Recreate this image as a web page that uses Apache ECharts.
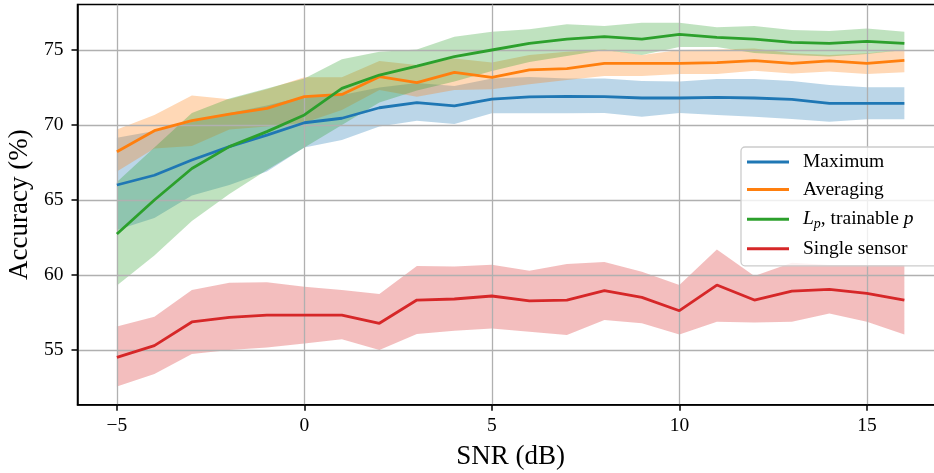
<!DOCTYPE html>
<html><head><meta charset="utf-8">
<script src="https://cdn.jsdelivr.net/npm/echarts@6/dist/echarts.min.js"></script>
<style>html,body{margin:0;padding:0;background:#fff}#c{width:934px;height:473px}</style>
</head><body><div id="c"></div>
<script>
const snr = [-5,-4,-3,-2,-1,0,1,2,3,4,5,6,7,8,9,10,11,12,13,14,15,16];
const xTicks = [-5,0,5,10,15];
const yTicks = [55,60,65,70,75];

const maxMean = [66.0,66.65,67.67,68.56,69.33,70.15,70.45,71.15,71.49,71.27,71.73,71.87,71.91,71.89,71.8,71.8,71.84,71.8,71.71,71.44,71.44,71.44];
const maxHigh = [69.15,69.6,70.2,70.8,71.3,71.9,72.0,72.5,72.8,72.6,73.1,73.2,73.1,73.1,72.93,72.9,73.07,73.07,72.93,72.67,72.51,72.51];
const maxLow  = [63.0,63.8,65.3,66.0,66.9,68.5,69.0,69.9,70.29,70.07,70.78,70.78,70.78,70.8,70.55,70.8,70.67,70.55,70.4,70.22,70.38,70.38];

const avgMean = [68.22,69.62,70.29,70.73,71.11,71.89,72.04,73.22,72.82,73.51,73.18,73.67,73.76,74.11,74.11,74.11,74.16,74.29,74.11,74.27,74.11,74.31];
const avgHigh = [69.7,70.67,71.96,71.71,72.38,73.18,73.18,74.27,74.0,74.44,74.16,74.67,74.89,75.04,74.67,75.0,75.04,75.1,74.78,74.67,74.78,75.0];
const avgLow  = [66.9,68.44,68.6,69.7,69.9,70.15,71.0,72.33,71.89,72.33,72.38,72.71,73.0,73.27,73.27,73.4,73.4,73.62,73.44,73.56,73.4,73.51];

const lpMean = [62.73,65.0,67.1,68.56,69.56,70.67,72.44,73.33,73.93,74.56,75.0,75.44,75.73,75.89,75.73,76.04,75.84,75.73,75.51,75.44,75.58,75.44];
const lpHigh = [66.2,68.5,70.8,71.76,72.44,73.1,74.38,74.89,75.04,75.89,76.22,76.38,76.71,76.6,76.82,76.82,76.51,76.6,76.33,76.27,76.44,76.22];
const lpLow  = [59.3,61.3,63.6,65.4,67.0,68.5,70.0,71.5,72.3,72.9,73.6,74.2,74.6,75.0,74.67,75.2,75.2,74.8,74.67,74.56,74.73,75.0];

const singleMean = [54.51,55.29,56.87,57.18,57.33,57.33,57.33,56.78,58.33,58.4,58.6,58.27,58.33,58.96,58.51,57.62,59.33,58.33,58.93,59.04,58.78,58.33];
const singleHigh = [56.56,57.22,59.0,59.49,59.51,59.22,59.0,58.73,60.6,60.56,60.69,60.29,60.73,60.87,60.22,59.33,61.7,59.93,60.82,60.67,60.67,60.67];
const singleLow  = [52.56,53.4,54.73,55.0,55.16,55.44,55.71,55.0,56.07,56.29,56.44,56.22,56.0,57.0,56.78,56.04,56.89,56.84,56.89,57.44,56.89,56.04];

const names = ['Maximum','Averaging','Lp, trainable p','Single sensor'];
const colors = ['#1f77b4','#ff7f0e','#2ca02c','#d62728'];
const bands = [[maxLow,maxHigh],[avgLow,avgHigh],[lpLow,lpHigh],[singleLow,singleHigh]];
const means = [maxMean,avgMean,lpMean,singleMean];
const FONT = 'Liberation Serif';

function hexA(h,a){const n=parseInt(h.slice(1),16);return `rgba(${n>>16&255},${n>>8&255},${n&255},${a})`;}

function bandRender(color){
  return function(params, api){
    if (params.dataIndexInside !== 0) return null;
    const n = params.dataInsideLength;
    const top = [], bot = [];
    for (let k=0;k<n;k++){
      const x = api.value(0,k);
      top.push(api.coord([x, api.value(2,k)]));
      bot.push(api.coord([x, api.value(1,k)]));
    }
    return {type:'polygon', shape:{points: top.concat(bot.reverse())}, style:{fill: color, stroke:'none'}};
  };
}

const series = [];
bands.forEach((b,i)=>{
  series.push({type:'custom', name:'band'+i, data:snr.map((x,k)=>[x,b[0][k],b[1][k]]),
    encode:{x:0,y:[1,2]}, renderItem:bandRender(hexA(colors[i],0.3)), z:1, silent:true, clip:true});
});
means.forEach((m,i)=>{
  series.push({type:'line',name:names[i],data:snr.map((x,k)=>[x,m[k]]),symbol:'none',
    color:colors[i],lineStyle:{width:2.8,color:colors[i]},z:3});
});

const chart = echarts.init(document.getElementById('c'));
chart.setOption({
  animation:false,
  backgroundColor:'#fff',
  grid:{left:77.5,top:4.55,width:866.25,height:400.2,outerBoundsMode:'none',containLabel:false,
    show:true,borderColor:'#000',borderWidth:1.5,backgroundColor:'transparent'},
  xAxis:{type:'value',min:-6.05,max:17.05,z:2,
    axisLine:{show:true,onZero:false,lineStyle:{color:'#000',width:1.5}},
    axisTick:{show:true,customValues:xTicks,length:6,lineStyle:{color:'#000',width:1.5}},
    axisLabel:{customValues:xTicks,formatter:v=>String(v).replace('-','\u2212'),
      fontFamily:FONT,fontSize:19.5,color:'#000',margin:11},
    splitLine:{show:true,lineStyle:{color:'#b0b0b0',width:1.3}},
    name:'SNR (dB)',nameLocation:'middle',nameGap:39,nameTextStyle:{fontFamily:FONT,fontSize:27,color:'#000'}},
  yAxis:{type:'value',min:51.35,max:78.03,z:2,
    axisLine:{show:true,onZero:false,lineStyle:{color:'#000',width:1.5}},
    axisTick:{show:true,customValues:yTicks,length:6,lineStyle:{color:'#000',width:1.5}},
    axisLabel:{customValues:yTicks,fontFamily:FONT,fontSize:19.5,color:'#000',margin:14},
    splitLine:{show:true,lineStyle:{color:'#b0b0b0',width:1.3}},
    name:'Accuracy (%)',nameLocation:'middle',nameRotate:90,nameGap:40,nameTextStyle:{fontFamily:FONT,fontSize:27,color:'#000'}},
  legend:{data:names,orient:'vertical',left:741,top:147,icon:'rect',itemWidth:42,itemHeight:3,itemGap:7.6,
    padding:[5,30,7,6],backgroundColor:'rgba(255,255,255,0.8)',borderColor:'#cccccc',borderWidth:1.3,borderRadius:4,
    formatter:n=> n==='Lp, trainable p' ? '{it|L}{sub|p}, trainable {it|p}' : n,
    textStyle:{fontFamily:FONT,fontSize:19.5,color:'#000',lineHeight:20,padding:[0,0,0,9],
      rich:{it:{fontFamily:FONT,fontSize:19.5,fontStyle:'italic',color:'#000',lineHeight:20},
            sub:{fontFamily:FONT,fontSize:14,fontStyle:'italic',color:'#000',lineHeight:10,padding:[10,0,0,0]}}}},
  series:series
});
</script></body></html>
